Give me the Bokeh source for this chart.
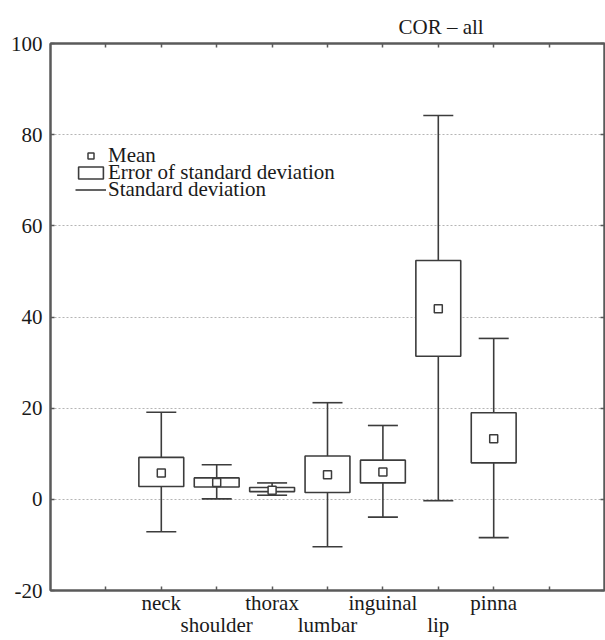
from bokeh.plotting import figure
from bokeh.models import (ColumnDataSource, LinearAxis, FixedTicker, Range1d,
                          Legend, LegendItem)
from bokeh.embed import file_html
from bokeh.resources import INLINE

# ---- data ----
categories = ["neck", "shoulder", "thorax", "lumbar", "inguinal", "lip", "pinna"]
mean_vals = [5.8, 3.7, 2.0, 5.4, 6.0, 41.8, 13.3]
err_low = [2.8, 2.7, 1.7, 1.5, 3.6, 31.4, 8.0]
err_high = [9.2, 4.7, 2.6, 9.5, 8.6, 52.4, 19.0]
sd_low = [-7.1, 0.1, 0.9, -10.4, -3.9, -0.3, -8.4]
sd_high = [19.1, 7.6, 3.6, 21.2, 16.2, 84.2, 35.3]
y_ticks = [-20, 0, 20, 40, 60, 80, 100]
title_text = "COR \u2013 all"
legend_labels = ["Mean", "Error of standard deviation", "Standard deviation"]

xs = list(range(2, 2 + len(categories)))
x_ticks = list(range(1, len(categories) + 3))
label_map = {1: "", x_ticks[-1]: ""}
for i, (xx, c) in enumerate(zip(xs, categories)):
    label_map[xx] = c if i % 2 == 0 else "\n" + c
y_label_map = {t: str(t) for t in y_ticks}

src = ColumnDataSource(dict(x=xs, mean=mean_vals, elo=err_low, ehi=err_high,
                            slo=sd_low, shi=sd_high))

FONT = "Liberation Serif"
AX = "#5a5a5a"
LC = "#3c3c3c"
TC = "#1a1a1a"

p = figure(width=605, height=640, output_backend="svg", toolbar_location=None,
           x_range=Range1d(0, len(categories) + 3), y_range=Range1d(-20, 100),
           min_border_left=50, min_border_right=1, min_border_top=43,
           min_border_bottom=48, background_fill_color="white",
           border_fill_color="white", outline_line_color=AX, outline_line_width=2)

p.title.text = title_text
p.title.text_font = FONT
p.title.text_font_size = "21px"
p.title.text_font_style = "normal"
p.title.text_color = TC
p.title.align = "left"
p.title.offset = 348
p.title.standoff = 10

# grid
p.xgrid.visible = False
p.ygrid.ticker = FixedTicker(ticks=y_ticks)
p.ygrid.grid_line_color = "#b5b5b5"
p.ygrid.grid_line_dash = "2 2"
p.ygrid.grid_line_width = 1

def style_axis(ax, labels=True):
    ax.axis_line_color = AX
    ax.axis_line_width = 2
    ax.major_tick_line_color = AX
    ax.major_tick_line_width = 1.5
    ax.major_tick_in = 4
    ax.major_tick_out = 0
    ax.minor_tick_line_color = None
    ax.major_label_text_font = FONT
    ax.major_label_text_font_size = "21px" if labels else "0px"
    ax.major_label_text_color = TC

# bottom axis
xa = p.xaxis[0]
xa.ticker = FixedTicker(ticks=x_ticks)
xa.major_label_overrides = label_map
style_axis(xa)
xa.major_label_standoff = 0
xa.major_label_text_line_height = 0.95

# left axis
ya = p.yaxis[0]
ya.ticker = FixedTicker(ticks=y_ticks)
ya.major_label_overrides = y_label_map
style_axis(ya)
ya.major_label_standoff = 8

# top and right axes (ticks only)
top = LinearAxis(ticker=FixedTicker(ticks=x_ticks))
style_axis(top, labels=False)
top.major_label_standoff = 0
p.add_layout(top, "above")
right = LinearAxis(ticker=FixedTicker(ticks=y_ticks))
style_axis(right, labels=False)
right.major_label_standoff = 0
p.add_layout(right, "right")

# whisker stems and caps
stem_hi = p.segment(x0="x", y0="ehi", x1="x", y1="shi", source=src,
                    line_color=LC, line_width=1.6)
stem_lo = p.segment(x0="x", y0="elo", x1="x", y1="slo", source=src,
                    line_color=LC, line_width=1.6)
cap_hi = p.scatter(x="x", y="shi", source=src, marker="dash", size=30,
                   line_color=LC, line_width=1.6)
cap_lo = p.scatter(x="x", y="slo", source=src, marker="dash", size=30,
                   line_color=LC, line_width=1.6)

# error boxes
boxes = p.vbar(x="x", width=0.81, top="ehi", bottom="elo", source=src,
               fill_color="white", line_color=LC, line_width=1.6)

# means
means = p.scatter(x="x", y="mean", source=src, marker="square", size=8,
                  fill_color="white", line_color=LC, line_width=1.5)

# legend: one row per Legend so the rows can sit tightly together
rows = [(legend_labels[0], [means]), (legend_labels[1], [boxes]),
        (legend_labels[2], [stem_hi])]
for k, (lab, rends) in enumerate(rows):
    lg = Legend(items=[LegendItem(label=lab, renderers=rends)],
                location=(25, 422 - 17 * k), orientation="vertical",
                glyph_width=31, glyph_height=15, label_standoff=2, spacing=0,
                padding=0, margin=0, border_line_color=None,
                background_fill_alpha=0, label_text_font=FONT,
                label_text_font_size="21px", label_text_color=TC,
                label_height=15)
    p.add_layout(lg, "center")

open("out.html", "w").write(file_html(p, INLINE))
